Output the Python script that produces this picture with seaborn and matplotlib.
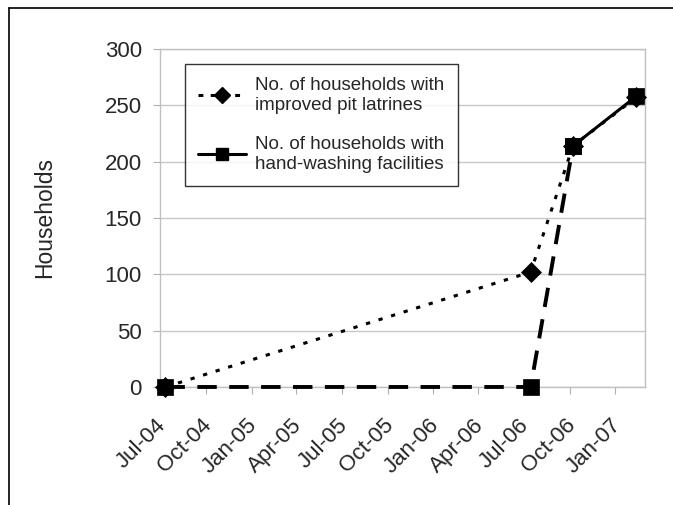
import pandas as pd
import numpy as np
import matplotlib
matplotlib.use('Agg')
import matplotlib.pyplot as plt
from matplotlib.lines import Line2D
from matplotlib.transforms import ScaledTranslation
import seaborn as sns

# data
dates = ['2004-07-12', '2006-07-15', '2006-10-08', '2007-02-12']
latrines = [0, 102, 214, 257]
handwash = [0, 0, 214, 258]
tick_dates = pd.date_range('2004-07-01', '2007-01-01', freq='3MS')
tick_labels = [d.strftime('%b-%y') for d in tick_dates]

lat_label = 'No. of households with\nimproved pit latrines'
hw_label = 'No. of households with\nhand-washing facilities'

df = pd.DataFrame({'Date': pd.to_datetime(dates), 'Latrines': latrines, 'Handwash': handwash})

sns.set_style('white')
plt.rcParams['font.family'] = ['Liberation Sans', 'DejaVu Sans']

fig = plt.figure(figsize=(6.73, 5.05), dpi=100)
ax = fig.add_axes([0.2377, 0.2337, 0.7203, 0.6693])

dot = (0, (1.4, 2.9))
dash = (0, (5, 3.2))
common = dict(ax=ax, color='black', legend=False, clip_on=False, zorder=3,
              markeredgecolor='black', markeredgewidth=0.5)

sns.lineplot(data=df, x='Date', y='Latrines', lw=2.2, marker='D', markersize=10,
             linestyle=dot, **common)
sns.lineplot(data=df.iloc[:3], x='Date', y='Handwash', lw=2.8, marker='s', markersize=11,
             linestyle=dash, **common)
# last segment drawn solid
sns.lineplot(data=df.iloc[2:], x='Date', y='Handwash', lw=2.2, marker='s', markersize=11,
             linestyle='-', **common)

ax.set_xlim(pd.Timestamp('2004-07-01'), pd.Timestamp('2007-03-01'))
ax.set_ylim(0, 300)
ax.set_yticks(range(0, 301, 50))
ax.set_xticks(tick_dates)
ax.set_xticklabels(tick_labels, rotation=45, ha='right', rotation_mode='anchor', fontsize=16)
ax.tick_params(axis='y', labelsize=16, length=5, color='#b0b0b0', direction='out', left=True, pad=8)
ax.tick_params(axis='x', length=5, color='#b0b0b0', direction='out', bottom=True, pad=15)
for lab in ax.get_xticklabels():
    lab.set_transform(lab.get_transform() + ScaledTranslation(-5 / 100, 0, fig.dpi_scale_trans))
ax.set_xlabel('')
ax.set_ylabel('Households', fontsize=16.5)
ax.yaxis.set_label_coords(-0.214, 0.5)
ax.yaxis.grid(True, color='#c8c8c8', lw=1)
ax.set_axisbelow(True)
for s in ax.spines.values():
    s.set_color('#c0c0c0')
    s.set_linewidth(1)

handles = [Line2D([], [], color='black', lw=2.2, linestyle=(0, (1.6, 2.4)), marker='D', markersize=8),
           Line2D([], [], color='black', lw=2.2, linestyle='-', marker='s', markersize=9)]
leg = ax.legend(handles, [lat_label, hw_label], loc='upper left', bbox_to_anchor=(0.0515, 0.9556),
                fontsize=13.5, frameon=True, fancybox=False, edgecolor='black',
                labelspacing=1.2, handlelength=2.56, handletextpad=0.5, borderpad=0.7, borderaxespad=0)
leg.get_frame().set_linewidth(1)
leg.set_zorder(5)

# outer chart border (top and left visible)
fig.add_artist(Line2D([9 / 673, 9 / 673], [0, 1 - 8 / 505], color='black', lw=1.2, transform=fig.transFigure))
fig.add_artist(Line2D([9 / 673, 1], [1 - 8 / 505, 1 - 8 / 505], color='black', lw=1.2, transform=fig.transFigure))

fig.savefig('out.png', dpi=100)
